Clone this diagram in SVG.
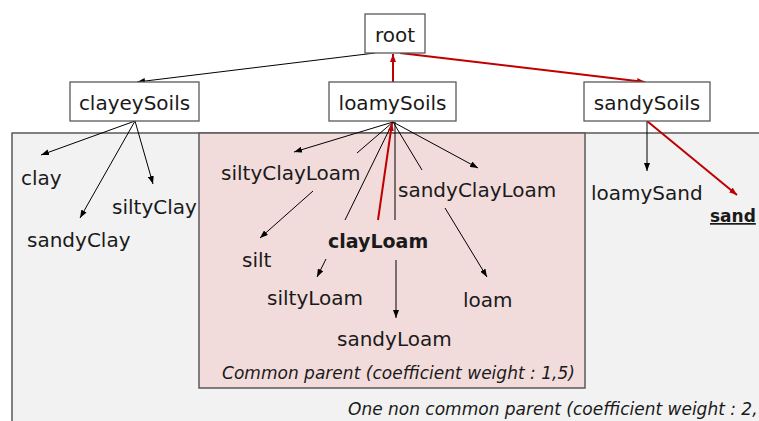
<svg xmlns="http://www.w3.org/2000/svg" width="759" height="421" viewBox="0 0 759 421">
  <style>
    .lbl { font-family: "DejaVu Sans", "Liberation Sans", sans-serif; font-size: 20px; fill: #1a1a1a; }
    .bold { font-weight: bold; font-size: 19px; }
    .cap { font-family: "DejaVu Sans", "Liberation Sans", sans-serif; font-size: 17px; font-style: italic; fill: #1a1a1a; }
    .box { fill: #ffffff; stroke: #595959; stroke-width: 1.3; }
    .edge { fill: none; stroke: #000000; stroke-width: 1; }
    .hot { fill: none; stroke: #c00000; stroke-width: 2; }
  </style>
  <defs>
    <marker id="ah" viewBox="0 0 8 6" refX="8" refY="3" markerWidth="8" markerHeight="6" orient="auto" markerUnits="userSpaceOnUse">
      <path d="M0,0 L8,3 L0,6 z" fill="#000000"/>
    </marker>
    <marker id="ahRed" viewBox="0 0 8 6" refX="8" refY="3" markerWidth="8" markerHeight="6" orient="auto" markerUnits="userSpaceOnUse">
      <path d="M0,0 L8,3 L0,6 z" fill="#c00000"/>
    </marker>
  </defs>

  <rect width="759" height="421" fill="#ffffff"/>

  <!-- weight regions -->
  <g id="regions">
    <rect x="12" y="133" width="770" height="310" fill="#f2f2f2" stroke="#595959" stroke-width="1.5"/>
    <rect x="199" y="133" width="386" height="255" fill="#f2dcdb" stroke="#595959" stroke-width="1.5"/>
    <text class="cap" x="222" y="379" textLength="353" lengthAdjust="spacing">Common parent (coefficient weight : 1,5)</text>
    <text class="cap" x="348" y="415">One non common parent (coefficient weight : 2,</text>
  </g>

  <!-- connectors -->
  <g id="connectors">
    <path class="edge" d="M375,53 L137,82" marker-end="url(#ah)"/>
    <path class="hot" d="M393,82 L393,54" marker-end="url(#ahRed)"/>
    <path class="hot" d="M400,53 L645,82" marker-end="url(#ahRed)"/>

    <path class="edge" d="M135,121 L41,155" marker-end="url(#ah)"/>
    <path class="edge" d="M135,121 L80,218" marker-end="url(#ah)"/>
    <path class="edge" d="M135,121 L153,184" marker-end="url(#ah)"/>

    <path class="edge" d="M393,122 L294,152" marker-end="url(#ah)"/>
    <path class="edge" d="M393,122 L357,153"/>
    <path class="edge" d="M313,191 L260,238" marker-end="url(#ah)"/>
    <path class="edge" d="M393,122 L345,220"/>
    <path class="edge" d="M326,259 L317,277" marker-end="url(#ah)"/>
    <path class="edge" d="M395,122 L395,220"/>
    <path class="edge" d="M396,260 L396,318" marker-end="url(#ah)"/>
    <path class="edge" d="M393,122 L422,170"/>
    <path class="edge" d="M445,208 L487,277" marker-end="url(#ah)"/>
    <path class="edge" d="M393,122 L478,168" marker-end="url(#ah)"/>
    <path class="hot" d="M378,220 L392,123" marker-end="url(#ahRed)"/>

    <path class="edge" d="M647,121 L647,171" marker-end="url(#ah)"/>
    <path class="hot" d="M647,121 L737,195" marker-end="url(#ahRed)"/>
  </g>

  <!-- boxed nodes -->
  <g id="root">
    <rect class="box" x="365" y="14" width="60" height="39"/>
    <text class="lbl" x="395" y="42" text-anchor="middle">root</text>
  </g>
  <g id="clayeySoils">
    <rect class="box" x="70" y="82" width="129" height="39"/>
    <text class="lbl" x="134.5" y="110" text-anchor="middle">clayeySoils</text>
  </g>
  <g id="loamySoils">
    <rect class="box" x="329" y="82" width="127" height="39"/>
    <text class="lbl" x="392.5" y="110" text-anchor="middle">loamySoils</text>
  </g>
  <g id="sandySoils">
    <rect class="box" x="584" y="82" width="126" height="39"/>
    <text class="lbl" x="647" y="110" text-anchor="middle">sandySoils</text>
  </g>

  <!-- leaf nodes -->
  <g id="clay"><text class="lbl" x="21" y="185">clay</text></g>
  <g id="siltyClay"><text class="lbl" x="112" y="214">siltyClay</text></g>
  <g id="sandyClay"><text class="lbl" x="27" y="247">sandyClay</text></g>

  <g id="siltyClayLoam"><text class="lbl" x="221" y="180">siltyClayLoam</text></g>
  <g id="sandyClayLoam"><text class="lbl" x="398" y="197">sandyClayLoam</text></g>
  <g id="clayLoam"><text class="lbl bold" x="328" y="248">clayLoam</text></g>
  <g id="silt"><text class="lbl" x="242" y="267">silt</text></g>
  <g id="siltyLoam"><text class="lbl" x="267" y="305">siltyLoam</text></g>
  <g id="loam"><text class="lbl" x="463" y="307">loam</text></g>
  <g id="sandyLoam"><text class="lbl" x="337" y="346">sandyLoam</text></g>

  <g id="loamySand"><text class="lbl" x="591" y="200">loamySand</text></g>
  <g id="sand"><text class="lbl bold" x="710" y="222" style="font-size:17px" text-decoration="underline">sand</text></g>
</svg>
